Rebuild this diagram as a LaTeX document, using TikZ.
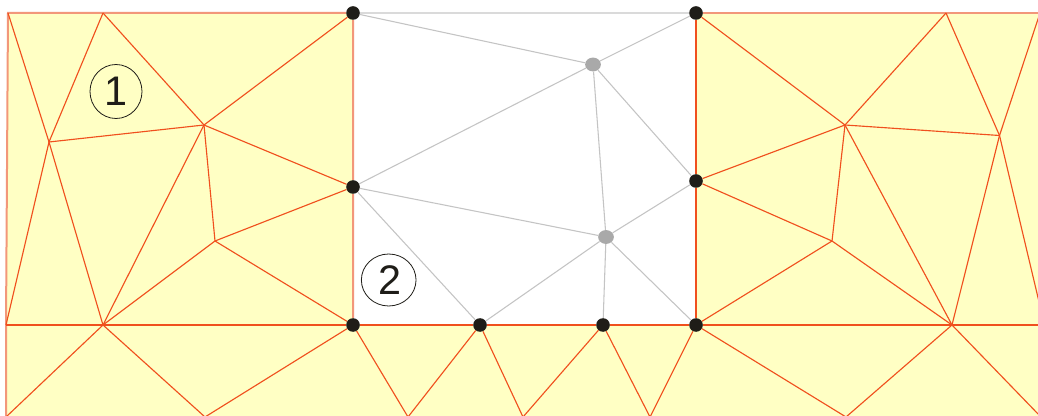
\documentclass[tikz,border=0pt]{standalone}
\usepackage{fontspec}
\setmainfont{Liberation Sans}
\usetikzlibrary{shapes.geometric}
\definecolor{paleyellow}{HTML}{FFFFC4}
\definecolor{meshred}{HTML}{F0501E}
\definecolor{borderred}{HTML}{F2977A}
\definecolor{meshgray}{HTML}{C4C4C4}
\definecolor{topgray}{HTML}{DADADA}
\definecolor{dotblack}{HTML}{1F1D18}
\definecolor{dotgray}{HTML}{A9A9A9}
\tikzset{
  meshline/.style={draw=meshred,line width=0.85pt},
  borderline/.style={draw=borderred,line width=1.5pt},
  innerline/.style={draw=meshgray,line width=0.8pt},
  topline/.style={draw=topgray,line width=1.3pt},
  blackdot/.style={circle,fill=dotblack,inner sep=0pt,minimum size=10.2pt},
  graydot/.style={ellipse,fill=dotgray,inner sep=0pt,minimum width=11.8pt,minimum height=10.4pt},
  numbered/.style={ellipse,draw=dotblack,line width=0.6pt,inner sep=0pt,text=dotblack,font=\fontsize{31}{31}\selectfont},
}
\begin{document}
\begin{tikzpicture}[x=0.75pt,y=-0.75pt]
\useasboundingbox (0,0) rectangle (1038,416);
\clip (0,0) rectangle (1038,416);
\fill[white] (0,0) rectangle (1038,416);
\fill[paleyellow] (8,13) -- (353,13) -- (353,325) -- (696,325) -- (696,13) -- (1038,13) -- (1038,416) -- (6,416) -- (6,325) -- cycle;
% free vertices
\coordinate (tl) at (8,13);
\coordinate (a) at (103,13);
\coordinate (d) at (49,142);
\coordinate (e) at (204,125);
\coordinate (g) at (215,241);
\coordinate (h) at (103,325);
\coordinate (j) at (6,325);
\coordinate (k) at (6,417);
\coordinate (l) at (205,417);
\coordinate (m1) at (408,417);
\coordinate (m2) at (523,417);
\coordinate (m3) at (650,417);
\coordinate (m4) at (846,417);
\coordinate (rb) at (1040,416);
\coordinate (rt) at (1040,13);
\coordinate (r1) at (946,13);
\coordinate (mm) at (845,125);
\coordinate (n) at (999.5,135.5);
\coordinate (p) at (832,241);
\coordinate (r) at (952,325);
\coordinate (rm) at (1040,325);
\coordinate (re) at (1040,306);
% dots
\node[blackdot] (c) at (353,13) {};
\node[blackdot] (f) at (353,187) {};
\node[blackdot] (i) at (353,325) {};
\node[blackdot] (b1) at (480,325) {};
\node[blackdot] (b2) at (603,325) {};
\node[blackdot] (q) at (696,325) {};
\node[blackdot] (o) at (696,181) {};
\node[blackdot] (u) at (696,13) {};
\node[graydot] (s) at (593,64.5) {};
\node[graydot] (t) at (606,237) {};
% labels
\node[numbered,minimum width=39pt,minimum height=40.5pt] (one) at (116,91.5) {1};
\node[numbered,minimum width=41pt,minimum height=39pt] (two) at (388.7,280) {\hspace*{1.5pt}2};
% outer edges
\draw[borderline] (k) -- (j) -- (tl) -- (a) -- (c) -- (f) -- (i);
\draw[borderline] (u) -- (r1) -- (rt);
\draw[topline] (c) -- (u);
% grey mesh
\draw[innerline] (c) -- (s);
\draw[innerline] (u) -- (s);
\draw[innerline] (f) -- (s);
\draw[innerline] (s) -- (t);
\draw[innerline] (s) -- (o);
\draw[innerline] (f) -- (t);
\draw[innerline] (f) -- (b1);
\draw[innerline] (o) -- (t);
\draw[innerline] (t) -- (b1);
\draw[innerline] (t) -- (b2);
\draw[innerline] (t) -- (q);
% left mesh
\draw[meshline] (tl) -- (d);
\draw[meshline] (d) -- (h);
\draw[meshline] (a) -- (d);
\draw[meshline] (a) -- (e);
\draw[meshline] (c) -- (e);
\draw[meshline] (d) -- (e);
\draw[meshline] (e) -- (f);
\draw[meshline] (e) -- (g);
\draw[meshline] (e) -- (h);
\draw[meshline] (g) -- (f);
\draw[meshline] (g) -- (h);
\draw[meshline] (g) -- (i);
\draw[meshline] (j) -- (h);
\draw[meshline] (h) -- (i);
\draw[meshline] (d) -- (j);
\draw[meshline] (h) -- (k);
\draw[meshline] (h) -- (l);
\draw[meshline] (i) -- (l);
% bottom zigzag
\draw[meshline] (i) -- (b1);
\draw[meshline] (b1) -- (b2);
\draw[meshline] (b2) -- (q);
\draw[meshline] (i) -- (m1);
\draw[meshline] (b1) -- (m1);
\draw[meshline] (b1) -- (m2);
\draw[meshline] (b2) -- (m2);
\draw[meshline] (b2) -- (m3);
\draw[meshline] (q) -- (m3);
\draw[meshline] (q) -- (m4);
% right mesh
\draw[meshline] (u) -- (o);
\draw[meshline] (o) -- (q);
\draw[meshline] (u) -- (mm);
\draw[meshline] (mm) -- (r1);
\draw[meshline] (r1) -- (n);
\draw[meshline] (n) -- (rt);
\draw[meshline] (mm) -- (n);
\draw[meshline] (mm) -- (o);
\draw[meshline] (mm) -- (p);
\draw[meshline] (mm) -- (r);
\draw[meshline] (n) -- (r);
\draw[meshline] (n) -- (re);
\draw[meshline] (o) -- (p);
\draw[meshline] (p) -- (q);
\draw[meshline] (p) -- (r);
\draw[meshline] (q) -- (r);
\draw[meshline] (r) -- (rm);
\draw[meshline] (r) -- (m4);
\draw[meshline] (r) -- (rb);
\end{tikzpicture}
\end{document}
